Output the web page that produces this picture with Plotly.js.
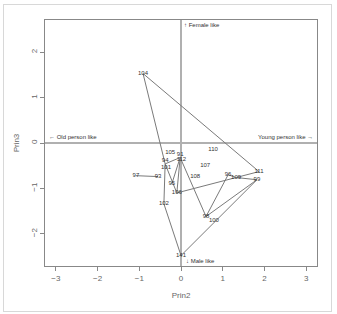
<!DOCTYPE html>
<html><head><meta charset="utf-8">
<script src="https://cdn.plot.ly/plotly-3.0.1.min.js"></script>
<style>
html,body{margin:0;padding:0;background:#fff;}
#wrap{position:relative;width:337px;height:314px;}
#chart{width:337px;height:314px;}
#frame{position:absolute;left:3px;top:4px;width:327px;height:306px;border:1px solid #d8d8d8;pointer-events:none;}
</style></head>
<body>
<div id="wrap"><div id="chart"></div><div id="frame"></div></div>
<script>
// Point labels and coordinates (Prin2, Prin3)
const labels = ["104","105","110","107","108","94","101","91","112","97","93","95","106","102","141","98","100","111","99","96","109"];
const prin2  = [-0.91,-0.26, 0.77, 0.58, 0.34,-0.38,-0.36,-0.02, 0.01,-1.08,-0.55,-0.22,-0.10,-0.41, 0.00, 0.60, 0.79, 1.87, 1.82, 1.13, 1.32];
const prin3  = [ 1.53,-0.22,-0.15,-0.50,-0.74,-0.46,-0.48,-0.32,-0.29,-0.72,-0.74,-0.90,-1.10,-1.34,-2.48,-1.62,-1.71,-0.63,-0.81,-0.70,-0.76];
// Connecting segments (pairs of labels)
const segFrom = ["97","104","104","94","102","141","94","91","94","91","106","91","98","96","109","98"];
const segTo   = ["93","94","111","102","141","99","91","95","106","106","111","98","96","109","99","99"];

const idx = {};
labels.forEach((l,i)=>idx[l]=i);
const lx=[], ly=[];
for(let k=0;k<segFrom.length;k++){
  const a=idx[segFrom[k]], b=idx[segTo[k]];
  lx.push(prin2[a],prin2[b],null);
  ly.push(prin3[a],prin3[b],null);
}
const tpos = labels.map(l => (l==="101"||l==="112") ? 'bottom center' : (l==="94"||l==="91") ? 'top center' : 'middle center');
const traces=[
  {x:lx,y:ly,mode:'lines',type:'scatter',line:{color:'#7a7a7a',width:1},hoverinfo:'skip'},
  {x:prin2,y:prin3,mode:'text',type:'scatter',text:labels,textposition:tpos,
   textfont:{family:'Liberation Sans, Arial, sans-serif',size:6,color:'#333333'},hoverinfo:'skip'}
];
const axfont={family:'Liberation Sans, Arial, sans-serif',size:8,color:'#666'};
const layout={
  width:337,height:314,
  margin:{l:45,r:20,t:20,b:48},
  paper_bgcolor:'#fff',plot_bgcolor:'#fff',
  showlegend:false,
  xaxis:{range:[-3.26,3.26],tickvals:[-3,-2,-1,0,1,2,3],ticks:'outside',ticklen:4,tickcolor:'#888',
    showgrid:false,zeroline:true,zerolinecolor:'#b0b0b0',zerolinewidth:2,
    showline:true,linecolor:'#888',linewidth:1,mirror:true,tickfont:axfont,
    title:{text:'Prin2',font:axfont,standoff:10}},
  yaxis:{range:[-2.71,2.71],tickvals:[-2,-1,0,1,2],ticks:'outside',ticklen:4,tickcolor:'#888',tickangle:-90,
    showgrid:false,zeroline:true,zerolinecolor:'#b0b0b0',zerolinewidth:2,
    showline:true,linecolor:'#888',linewidth:1,mirror:true,tickfont:axfont,
    title:{text:'Prin3',font:axfont,standoff:8}},
  annotations:[
    {x:0,y:2.71,xref:'x',yref:'y',text:'↑ Female like',showarrow:false,xanchor:'left',yanchor:'top',xshift:1,
      font:{family:'Liberation Sans, Arial, sans-serif',size:6,color:'#333'}},
    {x:0,y:-2.71,xref:'x',yref:'y',text:'↓ Male like',showarrow:false,xanchor:'left',yanchor:'bottom',xshift:3,
      font:{family:'Liberation Sans, Arial, sans-serif',size:6,color:'#333'}},
    {x:-3.26,y:0,xref:'x',yref:'y',text:'← Old person like',showarrow:false,xanchor:'left',yanchor:'bottom',xshift:2,yshift:1,
      font:{family:'Liberation Sans, Arial, sans-serif',size:6,color:'#333'}},
    {x:3.26,y:0,xref:'x',yref:'y',text:'Young person like →',showarrow:false,xanchor:'right',yanchor:'bottom',xshift:-2,yshift:1,
      font:{family:'Liberation Sans, Arial, sans-serif',size:6,color:'#333'}}
  ]
};
Plotly.newPlot('chart',traces,layout,{displayModeBar:false,staticPlot:true});
</script>
</body></html>
